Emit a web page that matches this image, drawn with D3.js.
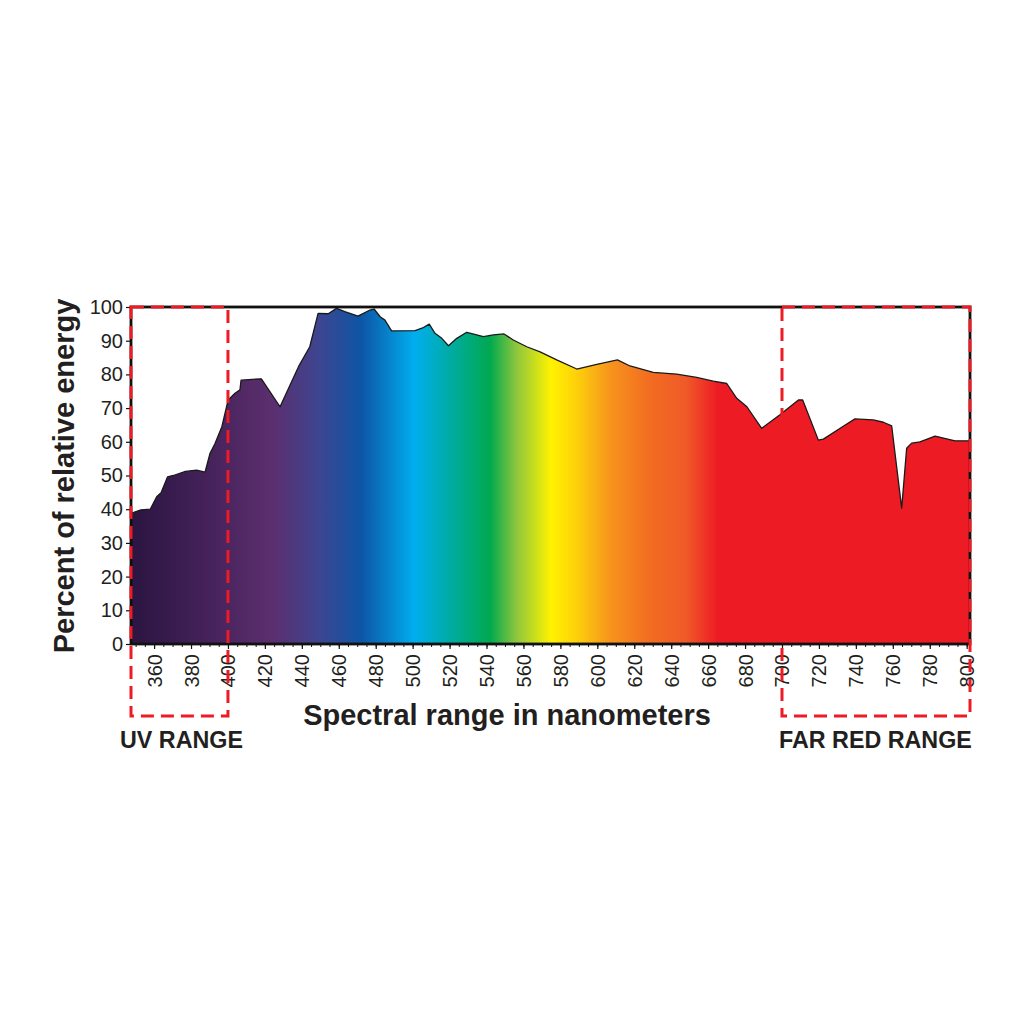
<!DOCTYPE html>
<html>
<head>
<meta charset="utf-8">
<script src="https://cdn.jsdelivr.net/npm/d3@7"></script>
<style>
  html, body { margin: 0; padding: 0; background: #ffffff; }
  svg { display: block; }
  text { font-family: "Liberation Sans", Arial, sans-serif; fill: #231f20; }
</style>
</head>
<body>
<svg id="chart" width="1024" height="1024"></svg>
<script>
// ---- data ----
const wavelengths = [347.5, 352.9, 357.9, 361.4, 363.9, 367.3, 370.4, 377.0, 383.0, 387.6, 390.3, 393.0, 396.7, 400.1, 403.8, 406.5, 407.1, 418.1, 428.2, 438.2, 444.3, 448.8, 454.3, 458.8, 463.3, 470.4, 476.9, 479.1, 482.4, 485.0, 488.6, 501.3, 505.8, 509.0, 512.1, 515.8, 519.4, 523.9, 529.3, 533.6, 538.3, 543.7, 549.5, 554.5, 561.8, 569.0, 578.0, 588.9, 599.7, 610.9, 617.7, 630.3, 643.0, 653.8, 662.8, 670.1, 675.5, 681.0, 689.0, 698.9, 708.9, 711.2, 719.7, 722.4, 731.5, 739.5, 749.4, 754.9, 759.4, 764.8, 767.5, 770.2, 774.7, 782.9, 793.7, 801.8];
const energy = [38.8, 39.8, 40, 43.7, 45, 49.6, 50, 51.2, 51.6, 51, 56.6, 59.5, 64.5, 72.4, 74.4, 75.4, 78.3, 78.7, 70.4, 82.3, 88.2, 98.1, 98, 99.6, 98.6, 97.3, 99.1, 99.4, 97.1, 96.1, 92.9, 93, 93.9, 94.9, 92.2, 90.7, 88.5, 90.7, 92.5, 91.9, 91.2, 91.7, 92, 90.2, 88.2, 86.7, 84.3, 81.6, 83, 84.3, 82.5, 80.6, 80.1, 79.1, 78, 77.3, 72.9, 70.4, 64, 68, 72.4, 72.4, 60.5, 60.8, 64, 66.8, 66.5, 65.8, 64.7, 40.3, 58.1, 59.6, 60, 61.7, 60.3, 60.3];

const xDomain = [347.5, 801.8];
const xTickValues = [360, 380, 400, 420, 440, 460, 480, 500, 520, 540, 560, 580, 600, 620, 640, 660, 680, 700, 720, 740, 760, 780, 800];
const yTickValues = [0, 10, 20, 30, 40, 50, 60, 70, 80, 90, 100];

const gradientNm = [347.5, 365, 424, 449, 472, 501, 542, 556, 575, 589, 607, 628, 648, 665, 801.8];
const gradientColors = ["#2b1541", "#351a4c", "#5c2e6e", "#3e4590", "#0d55a5", "#00aeef", "#00a94f", "#8cc63f", "#fff200", "#fdd00a", "#f7941d", "#f26d21", "#f05a28", "#ed1c24", "#ed1c24"];

const uvRange = [347.5, 400];
const farRedRange = [700, 801.8];

const xTitle = "Spectral range in nanometers";
const yTitle = "Percent of relative energy";
const uvLabel = "UV RANGE";
const farRedLabel = "FAR RED RANGE";

// ---- layout ----
const plotLeft = 131, plotRight = 970, plotTop = 307, plotBottom = 644, boxBottom = 716;
const svg = d3.select("#chart");
const x = d3.scaleLinear().domain(xDomain).range([plotLeft, plotRight]);
const y = d3.scaleLinear().domain([0, 100]).range([plotBottom, plotTop]);

// gradient
const defs = svg.append("defs");
const grad = defs.append("linearGradient")
  .attr("id", "spec")
  .attr("gradientUnits", "userSpaceOnUse")
  .attr("x1", x(xDomain[0])).attr("x2", x(xDomain[1])).attr("y1", 0).attr("y2", 0);
gradientNm.forEach((nm, i) => {
  grad.append("stop")
    .attr("offset", (x(nm) - x(xDomain[0])) / (x(xDomain[1]) - x(xDomain[0])))
    .attr("stop-color", gradientColors[i]);
});

const pts = wavelengths.map((w, i) => ({ w, e: energy[i] }));

const area = d3.area().x(d => x(d.w)).y0(y(0)).y1(d => y(d.e)).curve(d3.curveLinear);
const line = d3.line().x(d => x(d.w)).y(d => y(d.e)).curve(d3.curveLinear);

svg.append("path").datum(pts).attr("d", area).attr("fill", "url(#spec)");
svg.append("path").datum(pts).attr("d", line)
  .attr("fill", "none").attr("stroke", "#1a1a1a").attr("stroke-width", 1.3).attr("stroke-linejoin", "round");

// frame
svg.append("rect")
  .attr("x", plotLeft).attr("y", plotTop).attr("width", plotRight - plotLeft).attr("height", plotBottom - plotTop)
  .attr("fill", "none").attr("stroke", "#111").attr("stroke-width", 2.8);

// y axis
const yAxis = d3.axisLeft(y).tickValues(yTickValues).tickSize(5).tickFormat(d3.format("d"));
const gy = svg.append("g").attr("transform", `translate(${plotLeft},0)`).call(yAxis);
gy.select(".domain").remove();
gy.selectAll(".tick line").attr("stroke", "#111").attr("stroke-width", 1.2);
gy.selectAll(".tick text")
  .attr("x", -8)
  .style("font-family", "'Liberation Sans', Arial, sans-serif")
  .style("font-size", "20px").attr("fill", "#231f20");

// x axis minor ticks
const minorTicks = d3.range(350, 801, 5);
const gxm = svg.append("g").attr("transform", `translate(0,${plotBottom})`)
  .call(d3.axisBottom(x).tickValues(minorTicks).tickSize(3).tickFormat(""));
gxm.select(".domain").remove();
gxm.selectAll(".tick line").attr("stroke", "#111").attr("stroke-width", 1);

const gx = svg.append("g").attr("transform", `translate(0,${plotBottom})`)
  .call(d3.axisBottom(x).tickValues(xTickValues).tickSize(5).tickFormat(d3.format("d")));
gx.select(".domain").remove();
gx.selectAll(".tick line").attr("stroke", "#111").attr("stroke-width", 1.2);
gx.selectAll(".tick text")
  .attr("transform", "translate(0,10) rotate(-90)")
  .attr("x", 0).attr("y", 0).attr("dy", "0.35em")
  .attr("text-anchor", "end")
  .style("font-family", "'Liberation Sans', Arial, sans-serif")
  .style("font-size", "20px").attr("fill", "#231f20");

// dashed range boxes
function rangeBox(r) {
  svg.append("rect")
    .attr("x", x(r[0])).attr("y", plotTop)
    .attr("width", x(r[1]) - x(r[0])).attr("height", boxBottom - plotTop)
    .attr("fill", "none").attr("stroke", "#ed1c24").attr("stroke-width", 3)
    .attr("stroke-dasharray", "13,7");
}
rangeBox(uvRange);
rangeBox(farRedRange);

// titles
svg.append("text")
  .attr("transform", `translate(74,476) rotate(-90)`)
  .attr("text-anchor", "middle")
  .style("font-size", "29px").style("font-weight", "bold")
  .text(yTitle);

svg.append("text")
  .attr("x", 507).attr("y", 725)
  .attr("text-anchor", "middle")
  .style("font-size", "29px").style("font-weight", "bold")
  .text(xTitle);

svg.append("text")
  .attr("x", 120).attr("y", 748)
  .style("font-size", "23.3px").style("font-weight", "bold")
  .text(uvLabel);

svg.append("text")
  .attr("x", 779).attr("y", 748)
  .style("font-size", "23.3px").style("font-weight", "bold")
  .text(farRedLabel);
</script>
</body>
</html>
